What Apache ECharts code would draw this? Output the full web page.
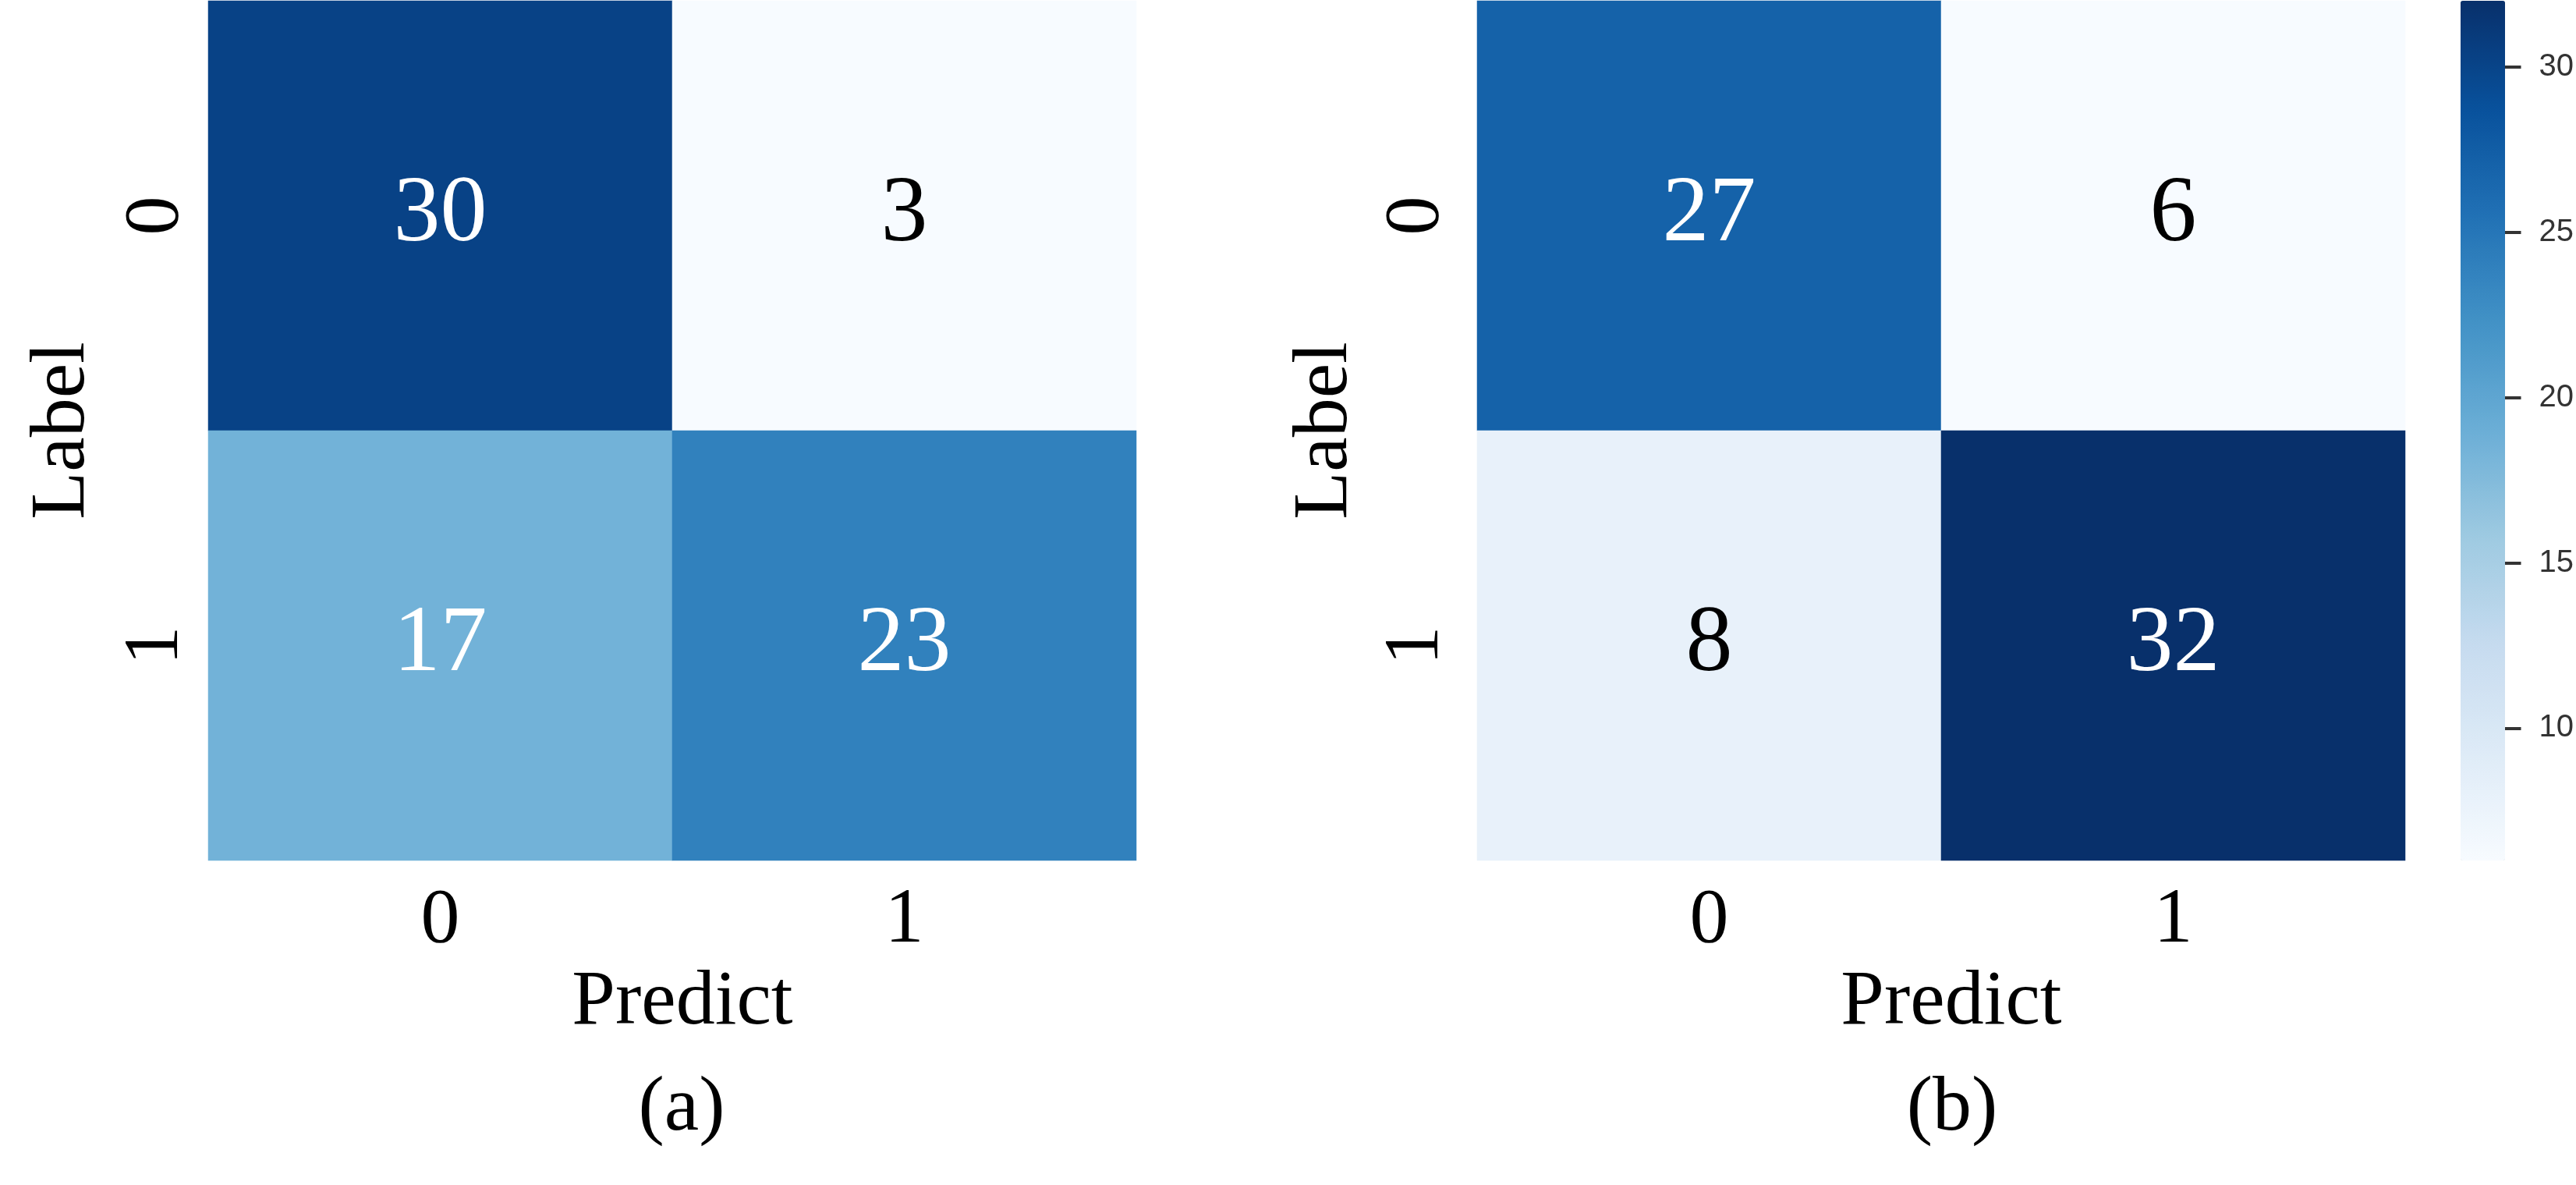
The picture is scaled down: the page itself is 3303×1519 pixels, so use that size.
<!DOCTYPE html>
<html>
<head>
<meta charset="utf-8">
<script src="https://cdn.jsdelivr.net/npm/echarts@6/dist/echarts.min.js"></script>
<style>
  html, body { margin: 0; padding: 0; background: #fff; }
  #chart { width: 3303px; height: 1519px; }
</style>
</head>
<body>
<div id="chart"></div>
<script>
  // confusion matrices, rows = Label, cols = Predict
  var labelCats = ['0', '1'];
  var predictCats = ['0', '1'];
  var matrixA = [[30, 3], [17, 23]];
  var matrixB = [[27, 6], [8, 32]];
  var rangeA = [3, 32];
  var rangeB = [6, 32];
  var colorbarTicks = [10, 15, 20, 25, 30];
  var panelNames = ['(a)', '(b)'];

  // matplotlib "Blues"
  var blues = ['#f7fbff', '#deebf7', '#c6dbef', '#9ecae1', '#6baed6',
               '#4292c6', '#2171b5', '#08519c', '#08306b'];

  var serif = "'Liberation Serif', 'Times New Roman', serif";

  function toCells(matrix, range) {
    var out = [];
    for (var i = 0; i < matrix.length; i++) {
      for (var j = 0; j < matrix[i].length; j++) {
        var v = matrix[i][j];
        var t = (v - range[0]) / (range[1] - range[0]);
        out.push({ value: [j, i, v], label: { color: t > 0.4 ? '#fff' : '#000' } });
      }
    }
    return out;
  }

  var grids = [
    { left: 267, top: 1, width: 1190, height: 1102 },
    { left: 1894, top: 1, width: 1190, height: 1102 },
    { left: 3155, top: 1, width: 57, height: 1102 }
  ];
  var yLabelMargin = [16, 27];
  var yNameGap = [136, 144];

  var xAxes = [], yAxes = [], series = [];
  [0, 1].forEach(function (k) {
    xAxes.push({
      type: 'category', gridIndex: k, data: predictCats,
      axisLine: { show: false }, axisTick: { show: false }, splitLine: { show: false },
      axisLabel: { fontSize: 100, fontFamily: serif, color: '#000', margin: 28 },
      name: 'Predict', nameLocation: 'middle', nameGap: 118,
      nameTextStyle: { fontSize: 100, fontFamily: serif, color: '#000', padding: [0, 0, 0, 26] }
    });
    yAxes.push({
      type: 'category', gridIndex: k, data: labelCats, inverse: true,
      axisLine: { show: false }, axisTick: { show: false }, splitLine: { show: false },
      axisLabel: { fontSize: 100, fontFamily: serif, color: '#000', rotate: 90, margin: yLabelMargin[k] },
      name: 'Label', nameLocation: 'middle', nameGap: yNameGap[k], nameRotate: 90,
      nameTextStyle: { fontSize: 100, fontFamily: serif, color: '#000' }
    });
    series.push({
      type: 'heatmap', xAxisIndex: k, yAxisIndex: k,
      data: toCells(k === 0 ? matrixA : matrixB, k === 0 ? rangeA : rangeB),
      itemStyle: { borderWidth: 0 },
      label: { show: true, fontSize: 120, fontFamily: serif },
      emphasis: { disabled: true }
    });
  });

  // colorbar axis
  xAxes.push({ type: 'category', gridIndex: 2, data: [''], show: false });
  yAxes.push({
    type: 'value', gridIndex: 2, position: 'right', min: rangeB[0], max: rangeB[1],
    axisLine: { show: false }, splitLine: { show: false },
    axisTick: { show: true, length: 22, customValues: colorbarTicks, lineStyle: { color: '#333', width: 4 } },
    axisLabel: { margin: 45, customValues: colorbarTicks, fontSize: 40, color: '#333',
                 fontFamily: "'Liberation Sans', Arial, sans-serif" }
  });

  var chart = echarts.init(document.getElementById('chart'));
  chart.setOption({
    animation: false,
    grid: grids,
    xAxis: xAxes,
    yAxis: yAxes,
    visualMap: [
      { type: 'continuous', seriesIndex: 0, min: rangeA[0], max: rangeA[1], show: false,
        inRange: { color: blues } },
      { type: 'continuous', seriesIndex: 1, min: rangeB[0], max: rangeB[1], show: true,
        calculable: false, left: 3155, top: 1, itemWidth: 57, itemHeight: 1102, padding: 0,
        text: null, hoverLink: false, inRange: { color: blues } }
    ],
    series: series,
    graphic: [
      { type: 'text', x: 874, y: 1422, style: { text: panelNames[0], font: '100px ' + serif,
        fill: '#000', align: 'center', verticalAlign: 'middle' } },
      { type: 'text', x: 2503, y: 1422, style: { text: panelNames[1], font: '100px ' + serif,
        fill: '#000', align: 'center', verticalAlign: 'middle' } }
    ]
  });
</script>
</body>
</html>
